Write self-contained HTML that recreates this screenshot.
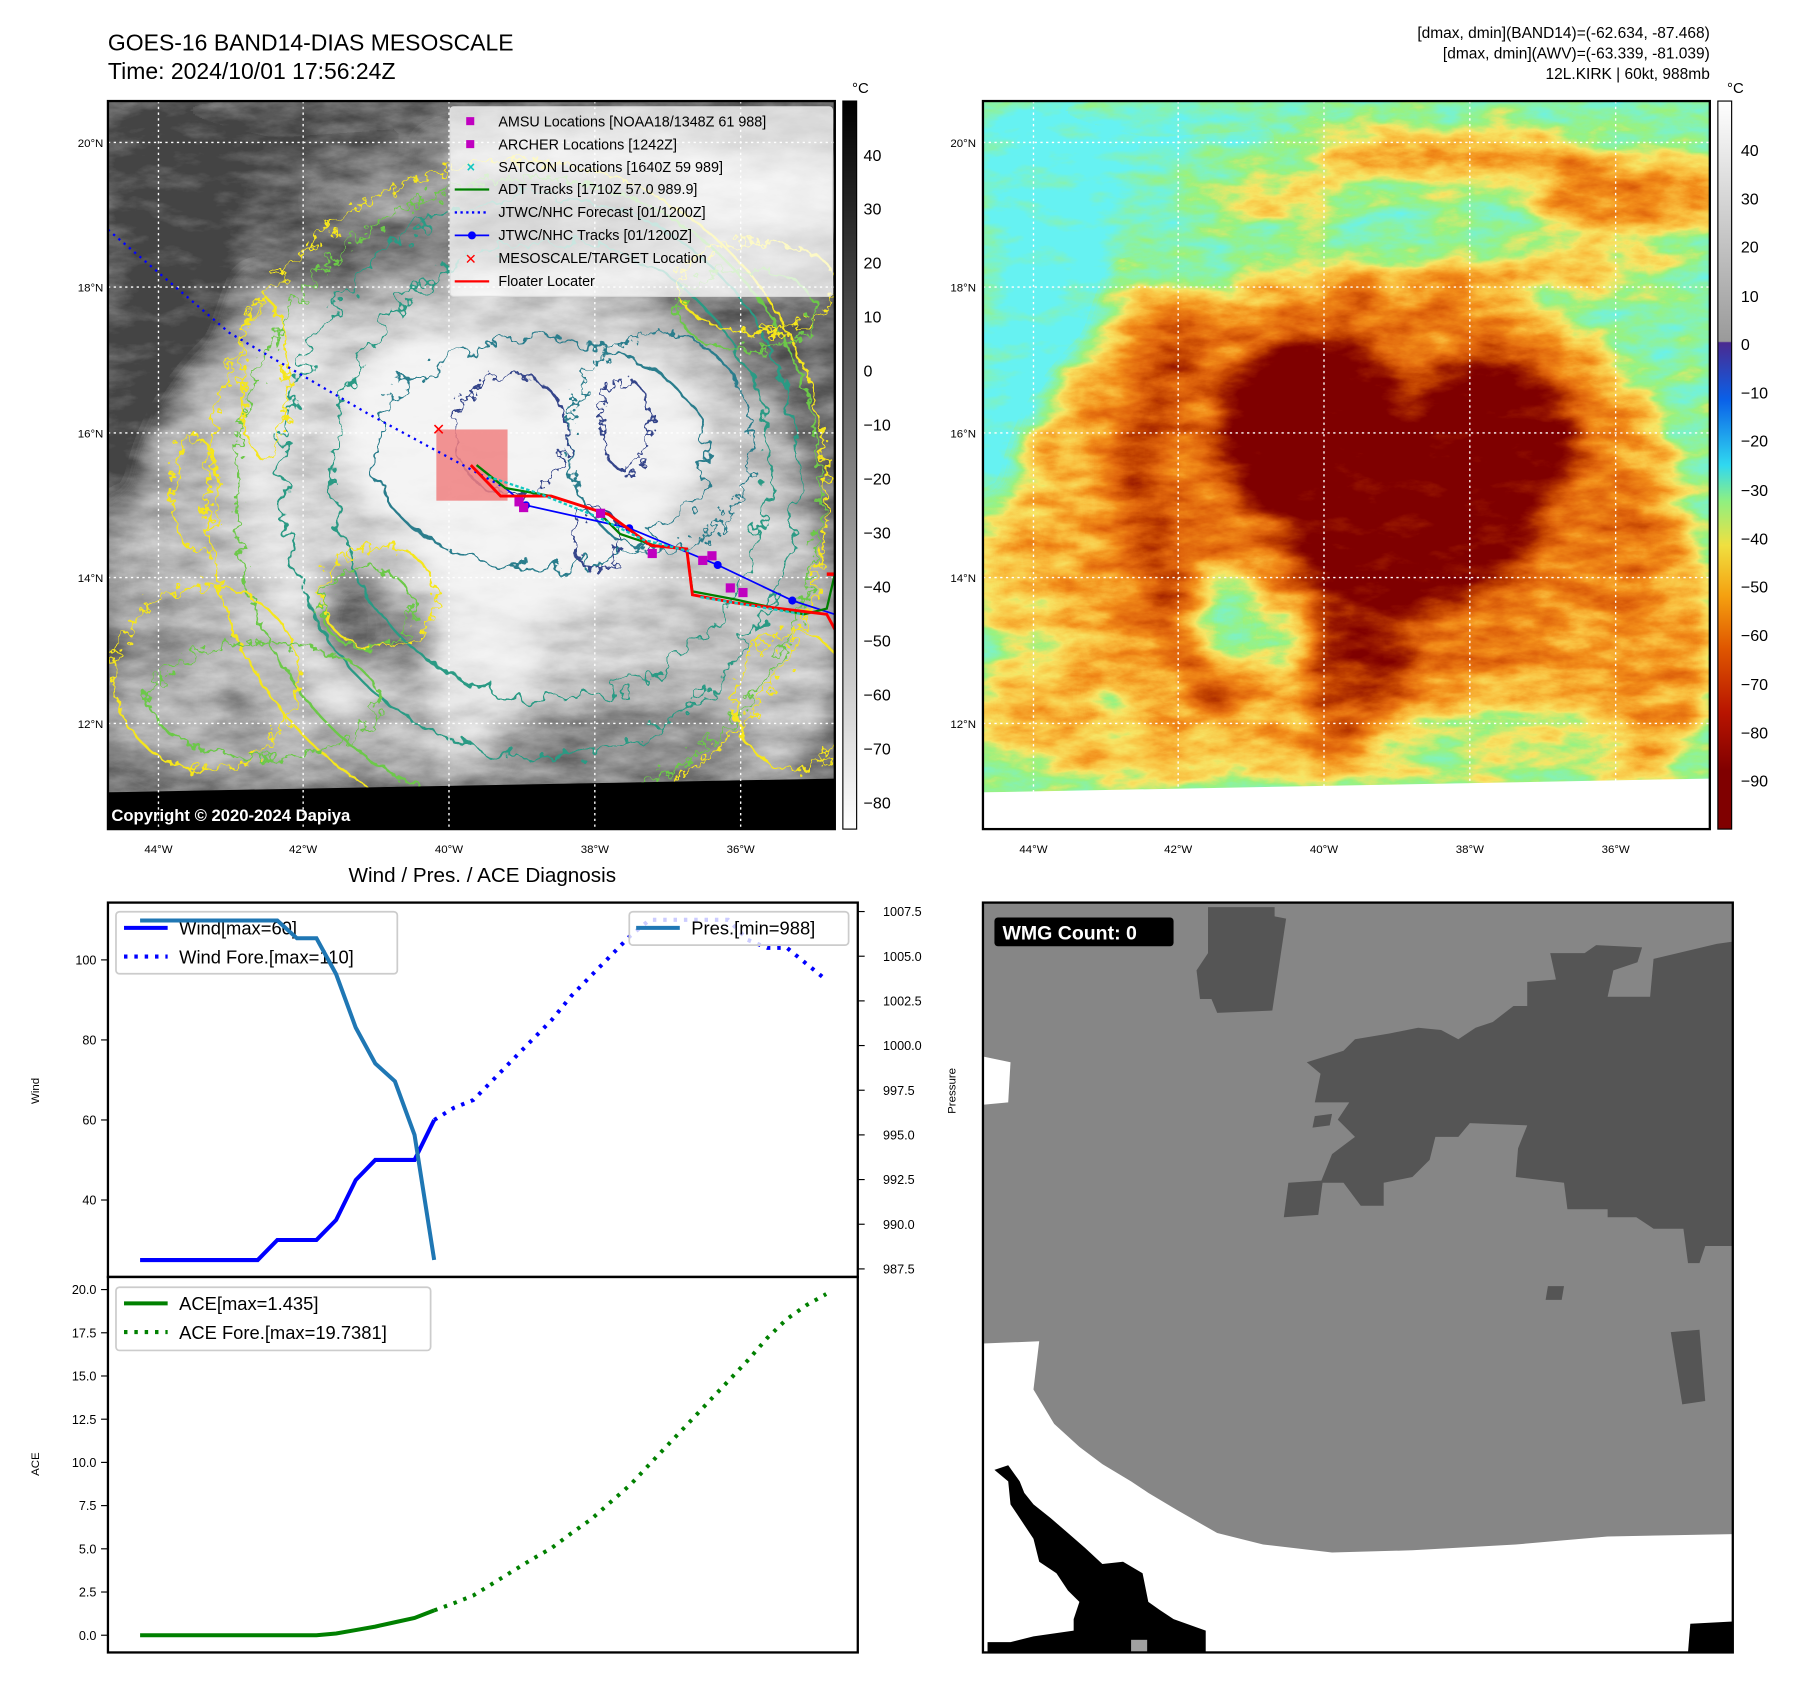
<!DOCTYPE html>
<html><head><meta charset="utf-8"><style>
html,body{margin:0;padding:0;background:#fff}
svg{display:block;font-family:"Liberation Sans","DejaVu Sans",sans-serif}
</style></head><body>
<svg id="root" width="1801" height="1690" viewBox="0 0 1568.4 1471.7" preserveAspectRatio="none" xmlns="http://www.w3.org/2000/svg">
<defs>
<filter id="wig" x="-10%" y="-10%" width="120%" height="120%"><feTurbulence type="fractalNoise" baseFrequency="0.06" numOctaves="3" seed="3"/><feDisplacementMap in="SourceGraphic" scale="30"/></filter>
<filter id="wig2" x="-20%" y="-20%" width="140%" height="140%"><feTurbulence type="fractalNoise" baseFrequency="0.1" numOctaves="3" seed="7"/><feDisplacementMap in="SourceGraphic" scale="22"/></filter>
<filter id="fblur" x="-5%" y="-5%" width="110%" height="110%"><feGaussianBlur stdDeviation="12"/></filter>
<filter id="colmap" x="0" y="0" width="100%" height="100%" color-interpolation-filters="sRGB">
<feTurbulence type="fractalNoise" baseFrequency="0.025 0.06" numOctaves="5" seed="11" result="n"/>
<feColorMatrix in="n" type="matrix" values="1 0 0 0 0  1 0 0 0 0  1 0 0 0 0  0 0 0 0 1" result="ng"/>
<feComposite in="SourceGraphic" in2="ng" operator="arithmetic" k1="0" k2="1" k3="0.36" k4="-0.18" result="f"/>
<feComponentTransfer in="f">
<feFuncR type="table" tableValues="0.4 0.5 0.6 0.97 0.98 0.95 0.88 0.75 0.6 0.5 0.5"/>
<feFuncG type="table" tableValues="0.95 0.95 0.95 0.9 0.75 0.55 0.4 0.25 0.1 0 0"/>
<feFuncB type="table" tableValues="0.95 0.75 0.5 0.4 0.25 0.1 0.05 0 0 0 0"/>
<feFuncA type="table" tableValues="1 1"/>
</feComponentTransfer></filter>
<filter id="graymap" x="0" y="0" width="100%" height="100%" color-interpolation-filters="sRGB">
<feTurbulence type="fractalNoise" baseFrequency="0.025 0.06" numOctaves="5" seed="11" result="n"/>
<feColorMatrix in="n" type="matrix" values="1 0 0 0 0  1 0 0 0 0  1 0 0 0 0  0 0 0 0 1" result="ng"/>
<feComposite in="SourceGraphic" in2="ng" operator="arithmetic" k1="0" k2="1" k3="0.36" k4="-0.18" result="f"/>
<feComponentTransfer in="f">
<feFuncR type="table" tableValues="0.27 0.38 0.5 0.6 0.7 0.78 0.85 0.9 0.93 0.95 0.96"/>
<feFuncG type="table" tableValues="0.27 0.38 0.5 0.6 0.7 0.78 0.85 0.9 0.93 0.95 0.96"/>
<feFuncB type="table" tableValues="0.27 0.38 0.5 0.6 0.7 0.78 0.85 0.9 0.93 0.95 0.96"/>
<feFuncA type="table" tableValues="1 1"/>
</feComponentTransfer></filter>
<g id="field">
<rect x="856" y="88" width="633" height="602" fill="rgb(35,35,35)"/>
<g filter="url(#fblur)">
<polygon points="856,88 1010,88 990,200 950,300 905,420 880,520 856,560" fill="#000"/>
<polygon points="856,88 1200,88 1150,110 1000,120" fill="rgb(10,10,10)"/>
<ellipse cx="1260" cy="135" rx="130" ry="22" fill="rgb(120,120,120)"/>
<ellipse cx="1420" cy="170" rx="90" ry="35" fill="rgb(130,130,130)"/>
<ellipse cx="1350" cy="235" rx="110" ry="16" fill="rgb(110,110,110)"/>
<ellipse cx="1110" cy="175" rx="70" ry="14" fill="rgb(100,100,100)"/>
<ellipse cx="1180" cy="455" rx="290" ry="225" fill="rgb(112,112,112)"/>
<ellipse cx="1200" cy="430" rx="215" ry="180" fill="rgb(140,140,140)"/>
<path d="M1040,270 Q950,450 1070,610" stroke="rgb(175,175,175)" stroke-width="42" fill="none"/>
<path d="M1000,250 Q930,420 1000,560" stroke="rgb(130,130,130)" stroke-width="30" fill="none"/>
<ellipse cx="1070" cy="540" rx="38" ry="48" fill="rgb(40,40,40)"/>
<ellipse cx="1120" cy="560" rx="22" ry="40" fill="rgb(60,60,60)"/>
<circle cx="1145" cy="375" r="78" fill="#fff"/>
<ellipse cx="1295" cy="405" rx="78" ry="90" fill="rgb(240,240,240)"/>
<ellipse cx="1215" cy="465" rx="90" ry="70" fill="rgb(235,235,235)"/>
<ellipse cx="1185" cy="570" rx="40" ry="60" fill="rgb(210,210,210)"/>
<ellipse cx="1175" cy="625" rx="30" ry="40" fill="rgb(170,170,170)"/>
<ellipse cx="1420" cy="560" rx="75" ry="120" fill="rgb(120,120,120)"/>
<ellipse cx="1390" cy="470" rx="60" ry="60" fill="rgb(140,140,140)"/>
<ellipse cx="900" cy="615" rx="55" ry="45" fill="rgb(105,105,105)"/>
<ellipse cx="980" cy="655" rx="85" ry="30" fill="rgb(100,100,100)"/>
<ellipse cx="880" cy="500" rx="30" ry="60" fill="rgb(100,100,100)"/>
<ellipse cx="1300" cy="650" rx="120" ry="40" fill="rgb(60,60,60)"/>
</g></g>
<linearGradient id="cb1" x1="0" y1="0" x2="0" y2="1"><stop offset="0" stop-color="#000"/><stop offset="1" stop-color="#fff"/></linearGradient>
<linearGradient id="cb2" x1="0" y1="0" x2="0" y2="1">
<stop offset="0" stop-color="#fff"/><stop offset="0.33" stop-color="#9a9a9a"/><stop offset="0.332" stop-color="#4a2a90"/><stop offset="0.41" stop-color="#0a60e8"/><stop offset="0.5" stop-color="#30d8f0"/><stop offset="0.55" stop-color="#90f080"/><stop offset="0.61" stop-color="#f0e040"/><stop offset="0.68" stop-color="#f5a010"/><stop offset="0.75" stop-color="#e05800"/><stop offset="0.84" stop-color="#b81400"/><stop offset="0.92" stop-color="#800000"/><stop offset="1" stop-color="#800000"/></linearGradient>
<clipPath id="c1"><polygon points="94,88 727,88 727,678 94,690"/></clipPath>
<clipPath id="c2"><polygon points="856,88 1489,88 1489,678 856,690"/></clipPath>
<clipPath id="c3"><rect x="856" y="786" width="653" height="653"/></clipPath>
</defs>

<text x="94" y="44" font-size="20">GOES-16 BAND14-DIAS MESOSCALE</text>
<text x="94" y="69" font-size="20">Time: 2024/10/01 17:56:24Z</text>
<g font-size="13.5" text-anchor="end">
<text x="1489" y="33">[dmax, dmin](BAND14)=(-62.634, -87.468)</text>
<text x="1489" y="51">[dmax, dmin](AWV)=(-63.339, -81.039)</text>
<text x="1489" y="69">12L.KIRK | 60kt, 988mb</text></g>

<!-- MAP 1 -->
<g>
<rect x="94" y="88" width="633" height="634" fill="#000"/>
<g clip-path="url(#c1)">
<g transform="translate(-762,0)"><use href="#field" filter="url(#graymap)"/></g>
<g fill="none" stroke-width="2">
<ellipse cx="450" cy="430" rx="270" ry="290" stroke="#f5e61e" filter="url(#wig2)"/>
<ellipse cx="460" cy="430" rx="255" ry="275" stroke="#6cc84a" filter="url(#wig2)"/>
<ellipse cx="470" cy="415" rx="225" ry="245" stroke="#2a9a84" filter="url(#wig)"/>
<ellipse cx="480" cy="410" rx="190" ry="200" stroke="#2a9a84" filter="url(#wig)"/>
<ellipse cx="470" cy="395" rx="145" ry="100" stroke="#2a7d8c" filter="url(#wig)"/>
<ellipse cx="575" cy="385" rx="80" ry="95" stroke="#2a7d8c" filter="url(#wig2)"/>
<ellipse cx="445" cy="378" rx="50" ry="52" stroke="#34448a" filter="url(#wig2)"/>
<ellipse cx="545" cy="370" rx="22" ry="40" stroke="#34448a" filter="url(#wig2)"/>
<ellipse cx="520" cy="470" rx="20" ry="28" stroke="#34448a" filter="url(#wig2)"/>
<ellipse cx="180" cy="590" rx="80" ry="80" stroke="#f5e61e" filter="url(#wig2)"/>
<ellipse cx="230" cy="610" rx="100" ry="50" stroke="#6cc84a" filter="url(#wig2)"/>
<ellipse cx="170" cy="430" rx="20" ry="50" stroke="#f5e61e" filter="url(#wig2)"/>
<ellipse cx="330" cy="520" rx="50" ry="45" stroke="#f5e61e" filter="url(#wig2)"/>
<ellipse cx="320" cy="530" rx="40" ry="35" stroke="#6cc84a" filter="url(#wig2)"/>
<ellipse cx="690" cy="610" rx="50" ry="60" stroke="#f5e61e" filter="url(#wig2)"/>
<ellipse cx="660" cy="250" rx="70" ry="40" stroke="#f5e61e" filter="url(#wig2)"/>
<ellipse cx="650" cy="270" rx="60" ry="35" stroke="#6cc84a" filter="url(#wig2)"/>
<ellipse cx="230" cy="330" rx="20" ry="70" stroke="#f5e61e" filter="url(#wig2)"/>
</g>
</g>
<g stroke="#fff" stroke-dasharray="2,3" stroke-width="1.2">
<line x1="94" y1="124" x2="727" y2="124"/><line x1="94" y1="250" x2="727" y2="250"/><line x1="94" y1="377" x2="727" y2="377"/><line x1="94" y1="503" x2="727" y2="503"/><line x1="94" y1="630" x2="727" y2="630"/>
<line x1="138" y1="88" x2="138" y2="722"/><line x1="264" y1="88" x2="264" y2="722"/><line x1="391" y1="88" x2="391" y2="722"/><line x1="518" y1="88" x2="518" y2="722"/><line x1="645" y1="88" x2="645" y2="722"/></g>
<rect x="380" y="374" width="62" height="62" fill="#f08080" opacity="0.85"/>
<polyline points="94,200 200,290 320,360 440,425" fill="none" stroke="#0000ff" stroke-width="2" stroke-dasharray="2,4"/>
<polyline points="440,425 458,440 548,460 625,492 690,523 727,535" fill="none" stroke="#0000ff" stroke-width="1.5"/>
<g fill="#0000ff"><circle cx="458" cy="440" r="3.5"/><circle cx="548" cy="460" r="3.5"/><circle cx="625" cy="492" r="3.5"/><circle cx="690" cy="523" r="3.5"/></g>
<polyline points="415,405 440,425 480,432 520,445 540,465 570,475 598,478 603,515 640,522 700,535 720,530 727,500" fill="none" stroke="#008000" stroke-width="2"/>
<polyline points="410,405 436,432 480,432 530,448 567,475 598,478 603,518 640,525 720,535 727,548" fill="none" stroke="#ff0000" stroke-width="2.5"/>
<line x1="720" y1="500" x2="727" y2="500" stroke="#f00" stroke-width="3"/>
<g stroke="#10c8c0" stroke-width="2" stroke-dasharray="3,2" fill="none"><polyline points="425,415 470,430 520,450 560,470 600,480"/><polyline points="610,520 700,535"/></g>
<g fill="#c000c0"><rect x="448" y="433" width="8" height="8"/><rect x="452" y="438" width="8" height="8"/><rect x="519" y="443" width="8" height="8"/><rect x="564" y="478" width="8" height="8"/><rect x="608" y="484" width="8" height="8"/><rect x="616" y="480" width="8" height="8"/><rect x="632" y="508" width="8" height="8"/><rect x="643" y="512" width="8" height="8"/></g>
<text x="382" y="379" font-size="14" fill="#f00" font-weight="bold" text-anchor="middle">✕</text>
<g font-size="12.5">
<rect x="392" y="93" width="333" height="165" rx="3" fill="#fff" fill-opacity="0.75" stroke="#ddd"/>
<rect x="406" y="102" width="7" height="7" fill="#c000c0"/><text x="434" y="110">AMSU Locations [NOAA18/1348Z 61 988]</text>
<rect x="406" y="122" width="7" height="7" fill="#c000c0"/><text x="434" y="130">ARCHER Locations [1242Z]</text>
<text x="410" y="150" fill="#10c8c0" text-anchor="middle" font-weight="bold">×</text><text x="434" y="150">SATCON Locations [1640Z 59 989]</text>
<line x1="396" y1="165" x2="426" y2="165" stroke="#008000" stroke-width="2"/><text x="434" y="169">ADT Tracks [1710Z 57.0 989.9]</text>
<line x1="396" y1="185" x2="426" y2="185" stroke="#00f" stroke-width="2" stroke-dasharray="2,3"/><text x="434" y="189">JTWC/NHC Forecast [01/1200Z]</text>
<line x1="396" y1="205" x2="426" y2="205" stroke="#00f" stroke-width="1.5"/><circle cx="411" cy="205" r="3.5" fill="#00f"/><text x="434" y="209">JTWC/NHC Tracks [01/1200Z]</text>
<text x="410" y="230" fill="#f00" text-anchor="middle" font-weight="bold">✕</text><text x="434" y="229">MESOSCALE/TARGET Location</text>
<line x1="396" y1="245" x2="426" y2="245" stroke="#f00" stroke-width="2"/><text x="434" y="249">Floater Locater</text></g>
<text x="97" y="715" font-size="14.5" font-weight="bold" fill="#fff">Copyright © 2020-2024 Dapiya</text>
<rect x="94" y="88" width="633" height="634" fill="none" stroke="#000" stroke-width="2"/>
</g>
<g font-size="10" text-anchor="end"><text x="90" y="128">20°N</text><text x="90" y="254">18°N</text><text x="90" y="381">16°N</text><text x="90" y="507">14°N</text><text x="90" y="634">12°N</text></g>
<g font-size="10" text-anchor="middle"><text x="138" y="743">44°W</text><text x="264" y="743">42°W</text><text x="391" y="743">40°W</text><text x="518" y="743">38°W</text><text x="645" y="743">36°W</text></g>
<g>
<rect x="734" y="88" width="12" height="634" fill="url(#cb1)" stroke="#000"/>
<text x="742" y="81" font-size="13">°C</text>
<g font-size="14"><text x="752" y="140">40</text><text x="752" y="187">30</text><text x="752" y="234">20</text><text x="752" y="281">10</text><text x="752" y="328">0</text><text x="752" y="375">−10</text><text x="752" y="422">−20</text><text x="752" y="469">−30</text><text x="752" y="516">−40</text><text x="752" y="563">−50</text><text x="752" y="610">−60</text><text x="752" y="657">−70</text><text x="752" y="704">−80</text></g></g>

<!-- MAP 2 -->
<g>
<rect x="856" y="88" width="633" height="634" fill="#fff"/>
<g clip-path="url(#c2)"><use href="#field" filter="url(#colmap)"/></g>
<g stroke="#fff" stroke-dasharray="2,3" stroke-width="1.2">
<line x1="856" y1="124" x2="1489" y2="124"/><line x1="856" y1="250" x2="1489" y2="250"/><line x1="856" y1="377" x2="1489" y2="377"/><line x1="856" y1="503" x2="1489" y2="503"/><line x1="856" y1="630" x2="1489" y2="630"/>
<line x1="900" y1="88" x2="900" y2="690"/><line x1="1026" y1="88" x2="1026" y2="690"/><line x1="1153" y1="88" x2="1153" y2="690"/><line x1="1280" y1="88" x2="1280" y2="690"/><line x1="1407" y1="88" x2="1407" y2="690"/></g>
<rect x="856" y="88" width="633" height="634" fill="none" stroke="#000" stroke-width="2"/>
</g>
<g font-size="10" text-anchor="end"><text x="850" y="128">20°N</text><text x="850" y="254">18°N</text><text x="850" y="381">16°N</text><text x="850" y="507">14°N</text><text x="850" y="634">12°N</text></g>
<g font-size="10" text-anchor="middle"><text x="900" y="743">44°W</text><text x="1026" y="743">42°W</text><text x="1153" y="743">40°W</text><text x="1280" y="743">38°W</text><text x="1407" y="743">36°W</text></g>
<g>
<rect x="1496" y="88" width="12" height="634" fill="url(#cb2)" stroke="#000"/>
<text x="1504" y="81" font-size="13">°C</text>
<g font-size="14"><text x="1516" y="136">40</text><text x="1516" y="178">30</text><text x="1516" y="220">20</text><text x="1516" y="263">10</text><text x="1516" y="305">0</text><text x="1516" y="347">−10</text><text x="1516" y="389">−20</text><text x="1516" y="432">−30</text><text x="1516" y="474">−40</text><text x="1516" y="516">−50</text><text x="1516" y="558">−60</text><text x="1516" y="601">−70</text><text x="1516" y="643">−80</text><text x="1516" y="685">−90</text></g></g>

<!-- WMG panel -->
<g>
<g clip-path="url(#c3)">
<rect x="856" y="786" width="653" height="653" fill="#868686"/>
<g fill="#555">
<polygon points="1052,790 1110,790 1110,798 1120,800 1108,880 1060,882 1055,870 1045,870 1042,845 1052,830"/>
<polygon points="1138,925 1170,915 1180,905 1210,900 1235,895 1255,897 1270,905 1285,895 1300,890 1318,876 1330,876 1330,855 1355,853 1350,830 1380,830 1390,823 1430,825 1426,838 1405,845 1400,868 1437,868 1440,835 1495,822 1509,820 1509,1085 1485,1085 1480,1100 1470,1100 1466,1070 1440,1070 1425,1060 1400,1060 1400,1053 1365,1053 1362,1030 1320,1025 1322,1000 1330,980 1280,978 1270,990 1250,990 1245,1010 1230,1025 1205,1030 1205,1050 1185,1050 1170,1030 1150,1030 1160,1005 1180,990 1165,975 1175,960 1145,960 1150,935"/>
<polygon points="1122,1030 1152,1028 1148,1058 1118,1060"/>
<polygon points="1455,1160 1480,1158 1485,1220 1465,1223"/>
<polygon points="1348,1120 1362,1120 1360,1132 1346,1132"/>
<polygon points="1145,972 1160,970 1158,980 1143,982"/>
</g>
<polygon fill="#fff" points="856,1170 905,1168 900,1210 918,1240 940,1260 960,1275 985,1290 1000,1300 1025,1315 1060,1335 1100,1345 1160,1352 1230,1350 1320,1345 1400,1338 1509,1336 1509,1439 856,1439"/>
<polygon fill="#fff" points="856,920 880,925 878,960 856,962"/>
<g fill="#000">
<polygon points="866,1280 878,1276 888,1290 892,1300 900,1310 915,1322 930,1335 945,1348 960,1362 978,1360 995,1370 1000,1395 1010,1402 1022,1410 1050,1420 1050,1439 860,1439 860,1430 880,1430 900,1425 935,1420 935,1410 940,1395 930,1385 920,1370 905,1360 900,1340 890,1325 880,1310 878,1290"/>
<polygon points="1472,1414 1509,1412 1509,1439 1470,1439"/>
</g>
<rect x="985" y="1428" width="14" height="11" fill="#a0a0a0"/>
</g>
<rect x="856" y="786" width="653" height="653" fill="none" stroke="#000" stroke-width="2"/>
<rect x="866" y="799" width="156" height="25" rx="3" fill="#000"/>
<text x="873" y="818" font-size="17" font-weight="bold" fill="#fff">WMG Count: 0</text>
</g>

<text x="420" y="768" font-size="18" text-anchor="middle">Wind / Pres. / ACE Diagnosis</text>
<g id="charts"></g>
</svg>
<script>
const windIdx = [0,1,2,3,4,5,6,7,8,9,10,11,12,13,14,15];
const wind = [25,25,25,25,25,25,25,30,30,30,35,45,50,50,50,60];
const foreIdx = [15,16,17,18,19,20,21,22,23,24,25,26,27,28,29,30,31,32,33,34,35];
const windFore = [60,63,65,70,75,80,85,91,96,101,106,110,110,110,110,110,105,103,103,99,95];
const pres = [1007,1007,1007,1007,1007,1007,1007,1007,1006,1006,1004,1001,999,998,995,988];
const ace = [0,0,0,0,0,0,0,0,0,0,0.1,0.3,0.5,0.75,1.0,1.435];
const aceFore = [1.435,1.85,2.3,3.0,3.7,4.4,5.05,5.9,6.7,7.7,8.7,9.9,11.1,12.3,13.5,14.7,15.9,17.2,18.3,19.1,19.74];
const windTicks = [40,60,80,100];
const presTicks = [987.5,990.0,992.5,995.0,997.5,1000.0,1002.5,1005.0,1007.5];
const aceTicks = [0.0,2.5,5.0,7.5,10.0,12.5,15.0,17.5,20.0];

const NS = 'http://www.w3.org/2000/svg';
const g = document.getElementById('charts');
const xS = i => 122 + 17.07 * i;
const yW = v => 1045 - (v - 40) * 3.485;
const yP = p => 1105 - (p - 987.5) * 15.56;
const yA = v => 1424 - v * 15.05;
function mk(tag, attrs, parent) { const e = document.createElementNS(NS, tag); for (const k in attrs) e.setAttribute(k, attrs[k]); (parent || g).appendChild(e); return e; }
function line(xs, vals, ys, color, w, dash, name) {
  const pts = xs.map((i, k) => xS(i).toFixed(1) + ',' + ys(vals[k]).toFixed(1)).join(' ');
  const p = mk('polyline', { points: pts, fill: 'none', stroke: color, 'stroke-width': w });
  if (dash) p.setAttribute('stroke-dasharray', dash);
  
  
  return p;
}
function txt(x, y, s, size, anchor, name) { const t = mk('text', { x: x, y: y, 'font-size': size, 'text-anchor': anchor || 'start' }); t.textContent = s;   return t; }

windTicks.forEach(v => { mk('line', { x1: 88, x2: 94, y1: yW(v), y2: yW(v), stroke: '#000' }); txt(84, yW(v) + 4, String(v), 11, 'end', 'wind-tick-label'); });
presTicks.forEach(v => { mk('line', { x1: 747, x2: 753, y1: yP(v), y2: yP(v), stroke: '#000' }); txt(769, yP(v) + 4, v.toFixed(1), 11, 'start', 'pressure-tick-label'); });
const wl = txt(34, 950, 'Wind', 10, 'middle', 'wind-axis-title'); wl.setAttribute('transform', 'rotate(-90 34 950)');
const pl = txt(832, 950, 'Pressure', 10, 'middle', 'pressure-axis-title'); pl.setAttribute('transform', 'rotate(-90 832 950)');
line(windIdx, wind, yW, '#0000ff', 3.5, null, 'wind-line');
line(foreIdx, windFore, yW, '#0000ff', 3.5, '3,6', 'wind-forecast-line');
const lg1 = mk('rect', { x: 101, y: 794, width: 245, height: 54, rx: 3, fill: '#fff', 'fill-opacity': 0.8, stroke: '#ccc', 'stroke-width': 1.5 });


mk('line', { x1: 108, x2: 146, y1: 808, y2: 808, stroke: '#00f', 'stroke-width': 3.5 });
txt(156, 814, 'Wind[max=60]', 16, 'start', 'wind-legend-label');
mk('line', { x1: 108, x2: 146, y1: 833, y2: 833, stroke: '#00f', 'stroke-width': 3.5, 'stroke-dasharray': '3,6' });
txt(156, 839, 'Wind Fore.[max=110]', 16, 'start', 'wind-forecast-legend-label');
line(windIdx, pres, yP, '#1f77b4', 3.5, null, 'pressure-line');
const lg2 = mk('rect', { x: 548, y: 794, width: 191, height: 29, rx: 3, fill: '#fff', 'fill-opacity': 0.8, stroke: '#ccc', 'stroke-width': 1.5 });


mk('line', { x1: 554, x2: 592, y1: 808, y2: 808, stroke: '#1f77b4', 'stroke-width': 3.5 });
txt(602, 814, 'Pres.[min=988]', 16, 'start', 'pressure-legend-label');
mk('rect', { x: 94, y: 786, width: 653, height: 326, fill: 'none', stroke: '#000', 'stroke-width': 2 });

aceTicks.forEach(v => { mk('line', { x1: 88, x2: 94, y1: yA(v), y2: yA(v), stroke: '#000' }); txt(84, yA(v) + 4, v.toFixed(1), 11, 'end', 'ace-tick-label'); });
const al = txt(34, 1275, 'ACE', 10, 'middle', 'ace-axis-title'); al.setAttribute('transform', 'rotate(-90 34 1275)');
line(windIdx, ace, yA, '#008000', 3.5, null, 'ace-line');
line(foreIdx, aceFore, yA, '#008000', 3.5, '3,6', 'ace-forecast-line');
const lg3 = mk('rect', { x: 101, y: 1121, width: 274, height: 55, rx: 3, fill: '#fff', 'fill-opacity': 0.8, stroke: '#ccc', 'stroke-width': 1.5 });


mk('line', { x1: 108, x2: 146, y1: 1135, y2: 1135, stroke: '#008000', 'stroke-width': 3.5 });
txt(156, 1141, 'ACE[max=1.435]', 16, 'start', 'ace-legend-label');
mk('line', { x1: 108, x2: 146, y1: 1160, y2: 1160, stroke: '#008000', 'stroke-width': 3.5, 'stroke-dasharray': '3,6' });
txt(156, 1166, 'ACE Fore.[max=19.7381]', 16, 'start', 'ace-forecast-legend-label');
mk('rect', { x: 94, y: 1112, width: 653, height: 327, fill: 'none', stroke: '#000', 'stroke-width': 2 });
</script>
</body></html>
